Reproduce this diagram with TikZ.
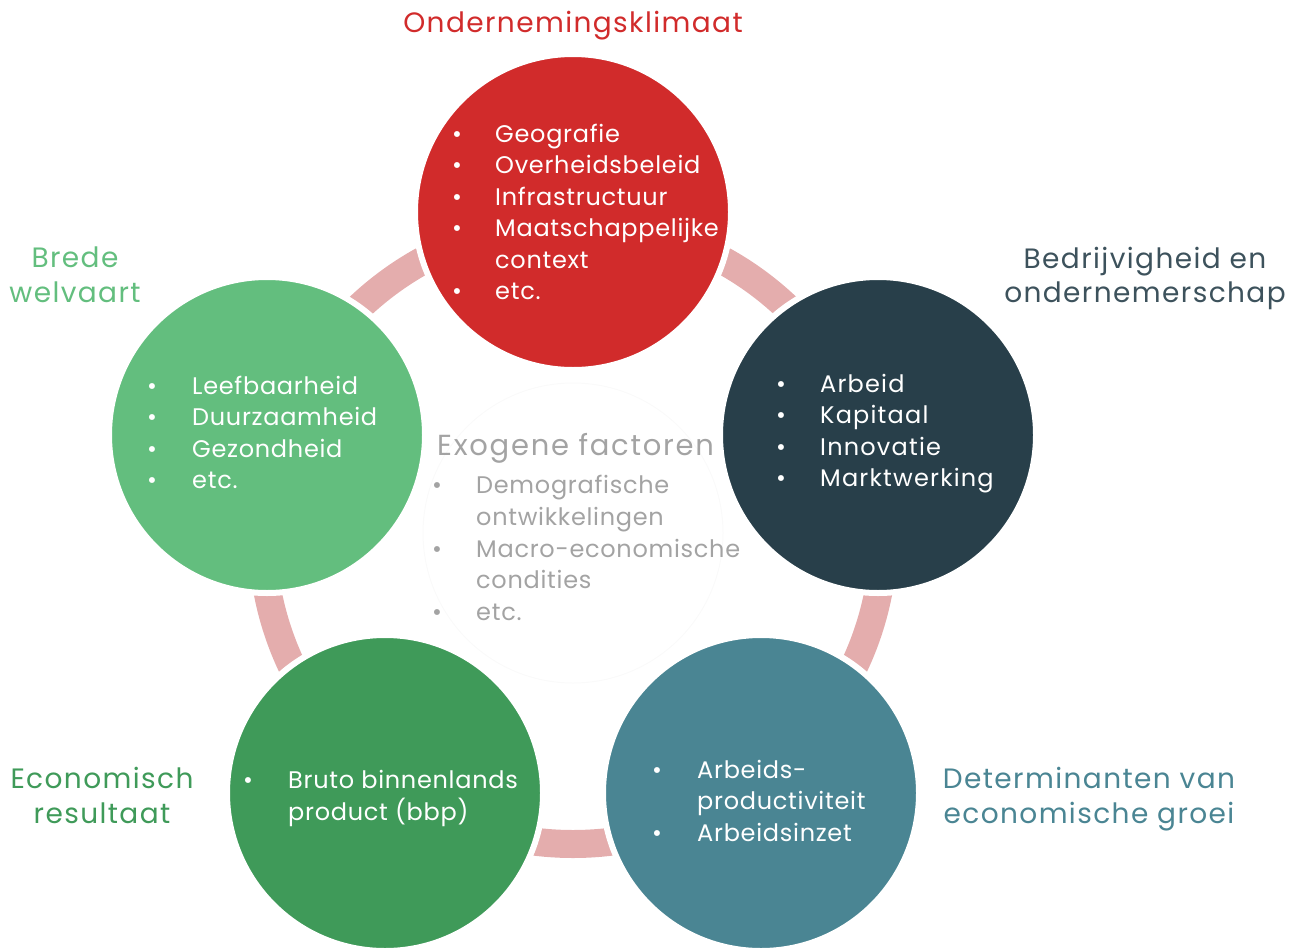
\documentclass[tikz,border=0pt]{standalone}
\usepackage{fontspec}
\setmainfont{Poppins}[LetterSpace=3]
\definecolor{rood}{HTML}{D12B2B}
\definecolor{donker}{HTML}{283F4A}
\definecolor{blauwgroen}{HTML}{4A8593}
\definecolor{groen}{HTML}{3F9A59}
\definecolor{lichtgroen}{HTML}{63BE7E}
\definecolor{roze}{HTML}{E4ADAD}
\definecolor{grijs}{HTML}{A3A3A3}
\tikzset{
  bol/.style={circle, minimum size=316pt, inner sep=0pt, draw=white, line width=6pt, fill=#1},
  regel/.style={anchor=base west, inner sep=0pt, text=white, font=\fontsize{24}{24}\selectfont},
  kop/.style={anchor=base, inner sep=0pt, text=#1, font=\fontsize{28}{28}\selectfont\addfontfeatures{LetterSpace=5}},
}
\begin{document}
\begin{tikzpicture}[x=1pt,y=-1pt]
\useasboundingbox (0,0) rectangle (1293,950);
% ring en middelste cirkel
\coordinate (c) at (573,533);
\draw[roze, line width=28pt] (c) circle[radius=311];
\draw[gray!4, line width=1pt] (c) circle[radius=150];
% de vijf bollen
\node[bol=rood] (klimaat) at (573,212) {};
\node[bol=donker] (bedrijf) at (878,435) {};
\node[bol=blauwgroen] (groei) at (761,793) {};
\node[bol=groen] (resultaat) at (385,793) {};
\node[bol=lichtgroen] (welvaart) at (267,435) {};
% koppen
\node[kop=rood] (k1) at (573,33) {Ondernemingsklimaat};
\node[kop=lichtgroen] (k2) at (75,267) {Brede};
\node[kop=lichtgroen] (k3) at (75,302) {welvaart};
\node[kop=donker!90] (k4) at (1145,268) {Bedrijvigheid en};
\node[kop=donker!90] (k5) at (1145,302) {ondernemerschap};
\node[kop=groen] (k6) at (102,788) {Economisch};
\node[kop=groen] (k7) at (102,823) {resultaat};
\node[kop=blauwgroen] (k8) at (1089,788) {Determinanten van};
\node[kop=blauwgroen] (k9) at (1089,823) {economische groei};
% ondernemingsklimaat
\foreach \y/\t [count=\i] in {142/Geografie, 173.5/Overheidsbeleid, 205/Infrastructuur, 236.5/Maatschappelijke, 268/context, 299.5/etc.}
  \node[regel] (r\i) at (495,\y) {\t};
\foreach \y [count=\i] in {142,173.5,205,236.5,299.5}
  \node[regel] (rb\i) at (452,\y) {•};
% bedrijvigheid
\foreach \y/\t [count=\i] in {392/Arbeid, 423.5/Kapitaal, 455/Innovatie, 486.5/Marktwerking}{
  \node[regel, font=\fontsize{24}{24}\selectfont\addfontfeatures{LetterSpace=5}] (d\i) at (820,\y) {\t};
  \node[regel] (db\i) at (776,\y) {•};
}
% brede welvaart
\foreach \y/\t [count=\i] in {394/Leefbaarheid, 425.5/Duurzaamheid, 457/Gezondheid, 488.5/etc.}{
  \node[regel] (w\i) at (192,\y) {\t};
  \node[regel] (wb\i) at (147,\y) {•};
}
% economisch resultaat
\node[regel] (e1) at (288,788) {Bruto binnenlands};
\node[regel] (e2) at (288,820) {product (bbp)};
\node[regel] (eb1) at (243,788) {•};
% determinanten
\node[regel] (g1) at (697,778) {Arbeids-};
\node[regel] (g2) at (697,809.5) {productiviteit};
\node[regel] (g3) at (697,841) {Arbeidsinzet};
\node[regel] (gb1) at (652,778) {•};
\node[regel] (gb3) at (652,841) {•};
% exogene factoren
\node[kop=grijs, anchor=base west, font=\fontsize{29}{29}\selectfont\addfontfeatures{LetterSpace=6}] (x0) at (437,455) {Exogene factoren};
\foreach \y/\t [count=\i] in {493/Demografische, 525/ontwikkelingen, 557/Macro-economische, 588/condities, 620/etc.}
  \node[regel, text=grijs] (x\i) at (476,\y) {\t};
\foreach \y [count=\i] in {493,557,620}
  \node[regel, text=grijs] (xb\i) at (432,\y) {•};
\end{tikzpicture}
\end{document}
